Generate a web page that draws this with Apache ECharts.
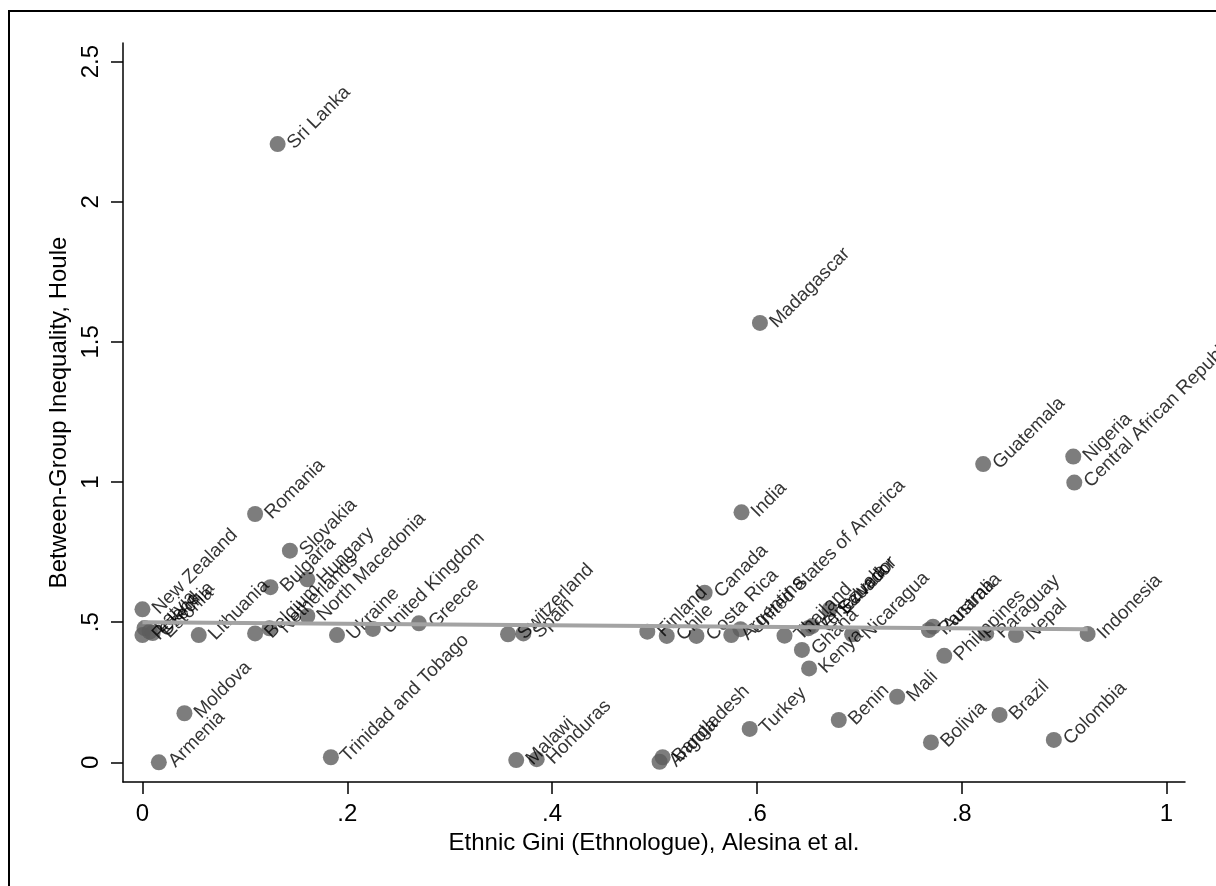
<!DOCTYPE html>
<html>
<head>
<meta charset="utf-8">
<script src="https://cdn.jsdelivr.net/npm/echarts@6/dist/echarts.min.js"></script>
<style>
  html, body { margin: 0; padding: 0; background: #fff; }
  #chart { width: 1216px; height: 886px; }
</style>
</head>
<body>
<div id="chart"></div>
<script>
// country labels, ethnic gini (x) and between-group inequality (y)
const countries = [
  'Sri Lanka', 'Madagascar', 'Guatemala', 'Nigeria', 'Central African Republic',
  'Romania', 'India', 'Slovakia', 'Bulgaria', 'Hungary',
  'New Zealand', 'North Macedonia', 'Belgium', 'Netherlands', 'Lithuania',
  'Ukraine', 'United Kingdom', 'Greece', 'Switzerland', 'Spain',
  'Finland', 'Chile', 'Canada', 'Costa Rica', 'Argentina',
  'United States of America', 'Thailand', 'Venezuela', 'El Salvador', 'Ecuador',
  'Nicaragua', 'Ghana', 'Kenya', 'Panama', 'Australia',
  'Philippines', 'Paraguay', 'Nepal', 'Indonesia', 'Mali',
  'Benin', 'Turkey', 'Bolivia', 'Brazil', 'Colombia',
  'Moldova', 'Armenia', 'Trinidad and Tobago', 'Malawi', 'Honduras',
  'Angola', 'Bangladesh', 'Poland', 'Czechia', 'Latvia', 'Estonia'
];
const giniX = [
  0.132, 0.603, 0.821, 0.909, 0.910,
  0.110, 0.585, 0.144, 0.125, 0.161,
  0.000, 0.161, 0.110, 0.124, 0.055,
  0.190, 0.225, 0.270, 0.357, 0.372,
  0.493, 0.512, 0.549, 0.541, 0.575,
  0.584, 0.627, 0.650, 0.654, 0.671,
  0.693, 0.644, 0.651, 0.768, 0.772,
  0.783, 0.824, 0.853, 0.923, 0.737,
  0.680, 0.593, 0.770, 0.837, 0.890,
  0.041, 0.016, 0.184, 0.365, 0.385,
  0.505, 0.508, 0.000, 0.007, 0.002, 0.010
];
const houleY = [
  2.206, 1.568, 1.064, 1.091, 0.998,
  0.886, 0.892, 0.755, 0.625, 0.653,
  0.546, 0.522, 0.460, 0.478, 0.454,
  0.454, 0.476, 0.496, 0.457, 0.460,
  0.466, 0.451, 0.605, 0.451, 0.454,
  0.475, 0.452, 0.478, 0.486, 0.546,
  0.457, 0.401, 0.335, 0.472, 0.484,
  0.380, 0.460, 0.454, 0.458, 0.234,
  0.151, 0.119, 0.071, 0.169, 0.080,
  0.175, 0.000, 0.018, 0.008, 0.011,
  0.002, 0.018, 0.454, 0.466, 0.479, 0.461
];
// linear fit end points
const fitX = [0, 0.923];
const fitY = [0.4996, 0.4746];

const xTicks = [0, 0.2, 0.4, 0.6, 0.8, 1];
const yTicks = [0, 0.5, 1, 1.5, 2, 2.5];

const fmt = v => {
  let s = String(Math.round(v * 10) / 10);
  return s.replace(/^0\./, '.');
};

const font = '"Liberation Sans", Arial, sans-serif';
const chart = echarts.init(document.getElementById('chart'));

const points = countries.map((c, i) => ({name: c, value: [giniX[i], houleY[i]]}));
const fitLine = fitX.map((x, i) => [x, fitY[i]]);

chart.setOption({
  animation: false,
  backgroundColor: '#fff',
  textStyle: {fontFamily: font},
  graphic: [{
    type: 'rect',
    shape: {x: 9, y: 11, width: 1300, height: 1000},
    style: {fill: 'none', stroke: '#000', lineWidth: 2},
    silent: true
  }],
  grid: {left: 123, right: 31, top: 43, bottom: 104, containLabel: false},
  xAxis: {
    type: 'value',
    min: -0.0190,
    max: 1.0181,
    name: 'Ethnic Gini (Ethnologue), Alesina et al.',
    nameLocation: 'middle',
    nameGap: 44,
    nameTextStyle: {fontSize: 24, color: '#000', fontFamily: font},
    axisLine: {show: true, onZero: false, lineStyle: {color: '#000', width: 1.5}},
    axisTick: {show: true, customValues: xTicks, length: 12, lineStyle: {color: '#000', width: 1.5}},
    axisLabel: {customValues: xTicks, formatter: fmt, fontSize: 24, color: '#000', margin: 20, fontFamily: font},
    splitLine: {show: false}
  },
  yAxis: {
    type: 'value',
    min: -0.0703,
    max: 2.5667,
    name: 'Between-Group Inequality, Houle',
    nameLocation: 'middle',
    nameGap: 49,
    nameRotate: 90,
    nameTextStyle: {fontSize: 24, color: '#000', fontFamily: font},
    axisLine: {show: true, onZero: false, lineStyle: {color: '#000', width: 1.5}},
    axisTick: {show: true, customValues: yTicks, length: 12, lineStyle: {color: '#000', width: 1.5}},
    axisLabel: {customValues: yTicks, formatter: fmt, rotate: 90, fontSize: 24, color: '#000', margin: 20, fontFamily: font},
    splitLine: {show: false}
  },
  series: [
    {
      type: 'scatter',
      data: points,
      symbol: 'circle',
      symbolSize: 16,
      itemStyle: {color: '#5c5c5c'},
      label: {
        show: true,
        formatter: p => p.name,
        position: [21, 10],
        align: 'left',
        verticalAlign: 'middle',
        rotate: 45,
        fontSize: 19,
        color: '#000',
        fontFamily: font
      },
      labelLayout: {hideOverlap: false},
      z: 2
    },
    {
      type: 'line',
      data: fitLine,
      symbol: 'none',
      lineStyle: {color: '#a3a3a3', width: 4},
      z: 3
    }
  ]
});
</script>
</body>
</html>
